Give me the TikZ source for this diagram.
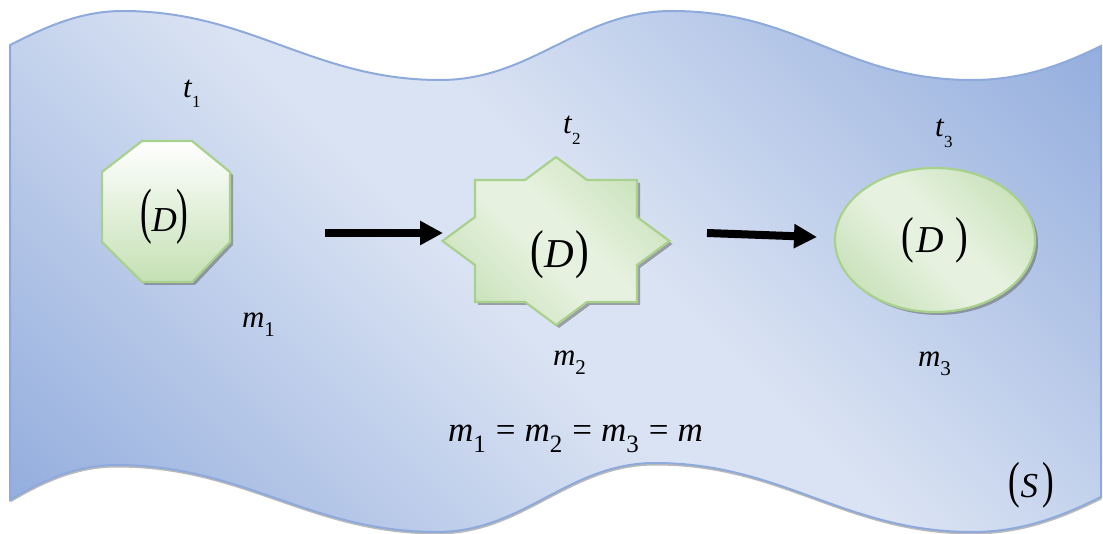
\documentclass[tikz,border=0pt]{standalone}
\usepackage{fontspec}
\setmainfont{Liberation Serif}
\usepackage{graphicx}
\usetikzlibrary{arrows.meta,shadows}
\definecolor{wdk}{HTML}{8FAADC}
\definecolor{wlt}{HTML}{DAE3F3}
\definecolor{wbd}{HTML}{8EAADB}
\definecolor{gdk}{HTML}{C5E0B4}
\definecolor{glt}{HTML}{E6F1DF}
\definecolor{gbd}{HTML}{A9D18E}
\pgfdeclareverticalshading{wavesh}{100bp}{color(0bp)=(wdk); color(14bp)=(wdk); color(46bp)=(wlt); color(54bp)=(wlt); color(86bp)=(wdk); color(100bp)=(wdk)}
\pgfdeclareverticalshading{greensh}{100bp}{color(0bp)=(gdk); color(20bp)=(gdk); color(45bp)=(glt); color(55bp)=(glt); color(80bp)=(gdk); color(100bp)=(gdk)}
\newcommand\fs[1]{\fontsize{#1}{#1}\selectfont}
\newcommand\vpar[3]{\scalebox{1}[#1]{\fs{#2}#3}}
\newcommand\sbs[3]{\raisebox{-#2pt}{\fs{#1}#3}}
\tikzset{
  lbl/.style={inner sep=0pt, outer sep=0pt, anchor=base west},
  gshadow/.style={drop shadow={shadow xshift=3pt, shadow yshift=-3pt, opacity=.55, fill=black!60}},
  gshape/.style={draw=gbd, line width=2.2pt, line join=miter, gshadow},
  arr/.style={line width=8pt, -{Triangle[length=23pt,width=23pt]}, draw=black},
}
\begin{document}
\begin{tikzpicture}[x=1pt,y=-1pt]
\useasboundingbox (0,0) rectangle (1103,534);
% the sheet (S)
\path[draw=wbd, line width=2pt, shading=wavesh, shading angle=-45,
      drop shadow={shadow xshift=0.5pt, shadow yshift=-2.5pt, opacity=.45, fill=black!60}]
  (10,45) .. controls (44,28) and (79,11) .. (123,11)
  .. controls (250,11) and (313,80) .. (440,80)
  .. controls (533,80) and (579,11) .. (672,11)
  .. controls (799,11) and (845,80) .. (972,80)
  .. controls (1024,80) and (1064,64) .. (1101,46)
  -- (1101,497)
  .. controls (1064,515) and (1024,532) .. (972,532)
  .. controls (845,532) and (782,463) .. (655,463)
  .. controls (568,463) and (524,532) .. (437,532)
  .. controls (309,532) and (244,465) .. (116,465)
  .. controls (75,465) and (40,482) .. (10,500)
  -- cycle;
% octagon
\path[gshape, top color=white, bottom color=gdk]
  (142,141) -- (192,141) -- (230,172) -- (230,242) -- (192,282) -- (142,282) -- (102,242) -- (102,172) -- cycle;
% eight-point star
\begin{scope}[shift={(556,241)}]
\path[gshape, shading=greensh, shading angle=-45]
  (0,-84) -- (31,-61) -- (81,-61) -- (81,-24) -- (113.5,0) -- (81,24) -- (81,61) -- (31,61)
  -- (0,84) -- (-31,61) -- (-81,61) -- (-81,24) -- (-113.5,0) -- (-81,-24) -- (-81,-61) -- (-31,-61) -- cycle;
\end{scope}
% ellipse
\path[gshape, shading=greensh, shading angle=-45] (935,240) ellipse [x radius=100, y radius=72];
% texts in shapes
\node[lbl] (d1) at (140,232) {\vpar{1.75}{35}{(}\kern0pt\fs{35}\textit{D}\kern0pt\vpar{1.75}{35}{)}};
\node[lbl] (d2) at (530,268) {\vpar{1.3}{41}{(}\kern1pt\fs{41}\textit{D}\kern1pt\vpar{1.3}{41}{)}};
\node[lbl] (d3) at (901,253) {\vpar{1.33}{38}{(}\kern3pt\fs{38}\textit{D}\kern11pt\vpar{1.33}{38}{)}};
% labels
\node[lbl] (t1) at (183,98) {\fs{31}\textit{t}\sbs{17}{10}{1}};
\node[lbl] (t2) at (563,134) {\fs{31}\textit{t}\sbs{17}{11}{2}};
\node[lbl] (t3) at (935,137) {\fs{31}\textit{t}\sbs{17}{11}{3}};
\node[lbl] (m1) at (242,328) {\fs{31}\textit{m}\sbs{21}{9}{1}};
\node[lbl] (m2) at (553,366) {\fs{31}\textit{m}\sbs{21}{9}{2}};
\node[lbl] (m3) at (918,367) {\fs{31}\textit{m}\sbs{21}{9}{3}};
\node[lbl] (eq) at (448,442) {\fs{35}\textit{m}\sbs{25}{10}{1}\hspace{10pt}=\hspace{9pt}\textit{m}\sbs{25}{10}{2}\hspace{10pt}=\hspace{9pt}\textit{m}\sbs{25}{10}{3}\hspace{10pt}=\hspace{9pt}\textit{m}};
\node[lbl] (S) at (1008,497) {\vpar{1.45}{35}{(}\kern1pt\fs{35}\textit{S}\kern4pt\vpar{1.45}{35}{)}};
% arrows
\coordinate (a1s) at (325,233);
\coordinate (a1e) at (443,233);
\coordinate (a2s) at (707,233);
\coordinate (a2e) at (817,237);
\draw[arr] (a1s) -- (a1e);
\draw[arr] (a2s) -- (a2e);
\end{tikzpicture}
\end{document}
